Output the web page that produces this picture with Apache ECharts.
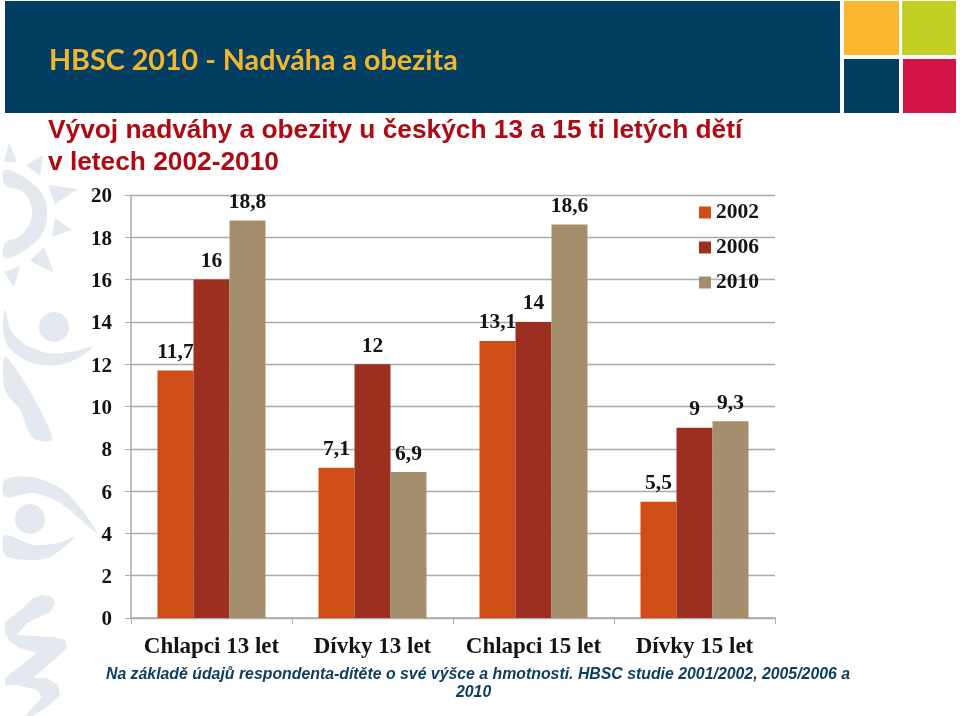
<!DOCTYPE html>
<html><head><meta charset="utf-8">
<style>html,body{margin:0;padding:0;background:#fff}#c{width:960px;height:716px}</style>
<script src="https://cdn.jsdelivr.net/npm/echarts@6/dist/echarts.min.js"></script>
</head><body><div id="c"></div>
<script>
const categories = ['Chlapci 13 let','Dívky 13 let','Chlapci 15 let','Dívky 15 let'];
const v2002 = [11.7, 7.1, 13.1, 5.5];
const v2006 = [16, 12, 14, 9];
const v2010 = [18.8, 6.9, 18.6, 9.3];
const headerTitle = 'HBSC 2010 - Nadváha a obezita';
const subTitle = 'Vývoj nadváhy a obezity u českých 13 a 15 ti letých dětí\nv letech 2002-2010';
const footNote = 'Na základě údajů respondenta-dítěte o své výšce a hmotnosti. HBSC studie 2001/2002, 2005/2006 a\n2010  ';

const serif = '"Liberation Serif","DejaVu Serif",serif';
const ink = '#141414', grey = '#ababab', deco = '#e3e9ef';
const mk = (name, data, color) => ({
  name, type:'bar', data, barWidth:36, barGap:0,
  itemStyle:{color},
  label:{show:true, position:'top', distance:7, color:ink, fontFamily:serif, fontSize:21.5, fontWeight:'bold',
    formatter:p=>String(p.value).replace('.',',')}
});
const rect=(x,y,w,h,fill)=>({type:'rect',shape:{x,y,width:w,height:h},style:{fill},z:-1,silent:true});
const poly=(points,smooth)=>({type:'polygon',shape:{points,smooth:smooth||0},style:{fill:deco},z:-2,silent:true});
const circ=(cx,cy,r)=>({type:'circle',shape:{cx,cy,r},style:{fill:deco},z:-2,silent:true});

const chart = echarts.init(document.getElementById('c'), null, {renderer:'canvas'});
chart.setOption({
  animation:false, backgroundColor:'#fff',
  title:[
    {text:headerTitle,left:49,top:46,padding:0,textStyle:{color:'#F1B62F',fontFamily:'Lato',fontWeight:'bold',fontSize:28.7}},
    {text:subTitle,left:48,top:114,padding:0,textStyle:{color:'#AF0A14',fontFamily:'"Liberation Sans"',fontWeight:'bold',fontSize:26.3,lineHeight:32.5}},
    {text:footNote,left:478,top:665,padding:0,textAlign:'center',textStyle:{color:'#0F3F60',fontFamily:'"Liberation Sans"',fontStyle:'italic',fontWeight:'bold',fontSize:15.85,lineHeight:18.5,align:'center'}}
  ],
  legend:{orient:'vertical',left:694,top:196,itemWidth:12,itemHeight:12,itemGap:12,icon:'rect',
    textStyle:{color:ink,fontFamily:serif,fontSize:21.5,fontWeight:'bold',lineHeight:23}},
  grid:{left:131,right:185,top:195,bottom:98},
  xAxis:{type:'category',data:categories,
    axisLine:{lineStyle:{color:grey,width:1.5}},axisTick:{show:true,length:6,lineStyle:{color:grey}},
    axisLabel:{interval:0,hideOverlap:false,color:ink,fontFamily:serif,fontSize:23,fontWeight:'bold',margin:18}},
  yAxis:{type:'value',min:0,max:20,interval:2,
    axisLine:{show:true,lineStyle:{color:grey,width:1.5}},axisTick:{show:true,length:6,lineStyle:{color:grey}},
    splitLine:{show:true,lineStyle:{color:grey,width:1.3}},
    axisLabel:{color:ink,fontFamily:serif,fontSize:21,fontWeight:'bold',margin:19,verticalAlign:'top',lineHeight:4}},
  series:[mk('2002',v2002,'#D14D17'),mk('2006',v2006,'#9C2F1F'),mk('2010',v2010,'#A58E6C')],
  graphic:[
    rect(5,1,835,112,'#023E62'),
    rect(844,1,55,54,'#FDB72F'),rect(902,1,54,54,'#C2D024'),
    rect(844,59,55,54,'#023E62'),rect(903,59,53,54,'#D21446'),
    poly([[9,142],[17,162],[4,162]]),poly([[43,155],[40,176],[26,165]]),poly([[78,189],[55,204],[48,185]]),
    poly([[55,218],[72,230],[52,237]]),poly([[44,247],[54,273],[30,261]]),poly([[20,266],[14,287],[4,272]]),
    poly([[5,170],[28,180],[43,195],[47,213],[43,232],[28,248],[5,258],[5,243],[20,236],[29,225],[32,213],[29,200],[20,190],[5,185]],0.4),
    circ(54,327,15),
    poly([[5,310],[14,335],[43,352],[70,352],[92,347],[70,362],[43,365],[20,357],[5,340]],0.4),
    poly([[5,357],[20,375],[40,410],[52,440],[33,438],[20,410],[5,390]],0.3),
    poly([[5,480],[33,477],[67,493],[97,533],[60,503],[33,493],[5,497]],0.3),
    circ(30,519,15),
    poly([[5,535],[33,545],[58,543],[75,537],[50,557],[27,560],[5,555]],0.3),
    poly([[42,595],[52,597],[55,603],[50,612],[27,623],[17,635],[53,637],[65,640],[67,648],[60,655],[33,678],[47,678],[58,685],[60,695],[50,705],[33,716],[25,716],[42,697],[37,690],[17,685],[5,685],[5,678],[37,653],[20,648],[10,642],[5,633],[5,622],[23,608],[33,598]])
  ]
});
</script></body></html>
